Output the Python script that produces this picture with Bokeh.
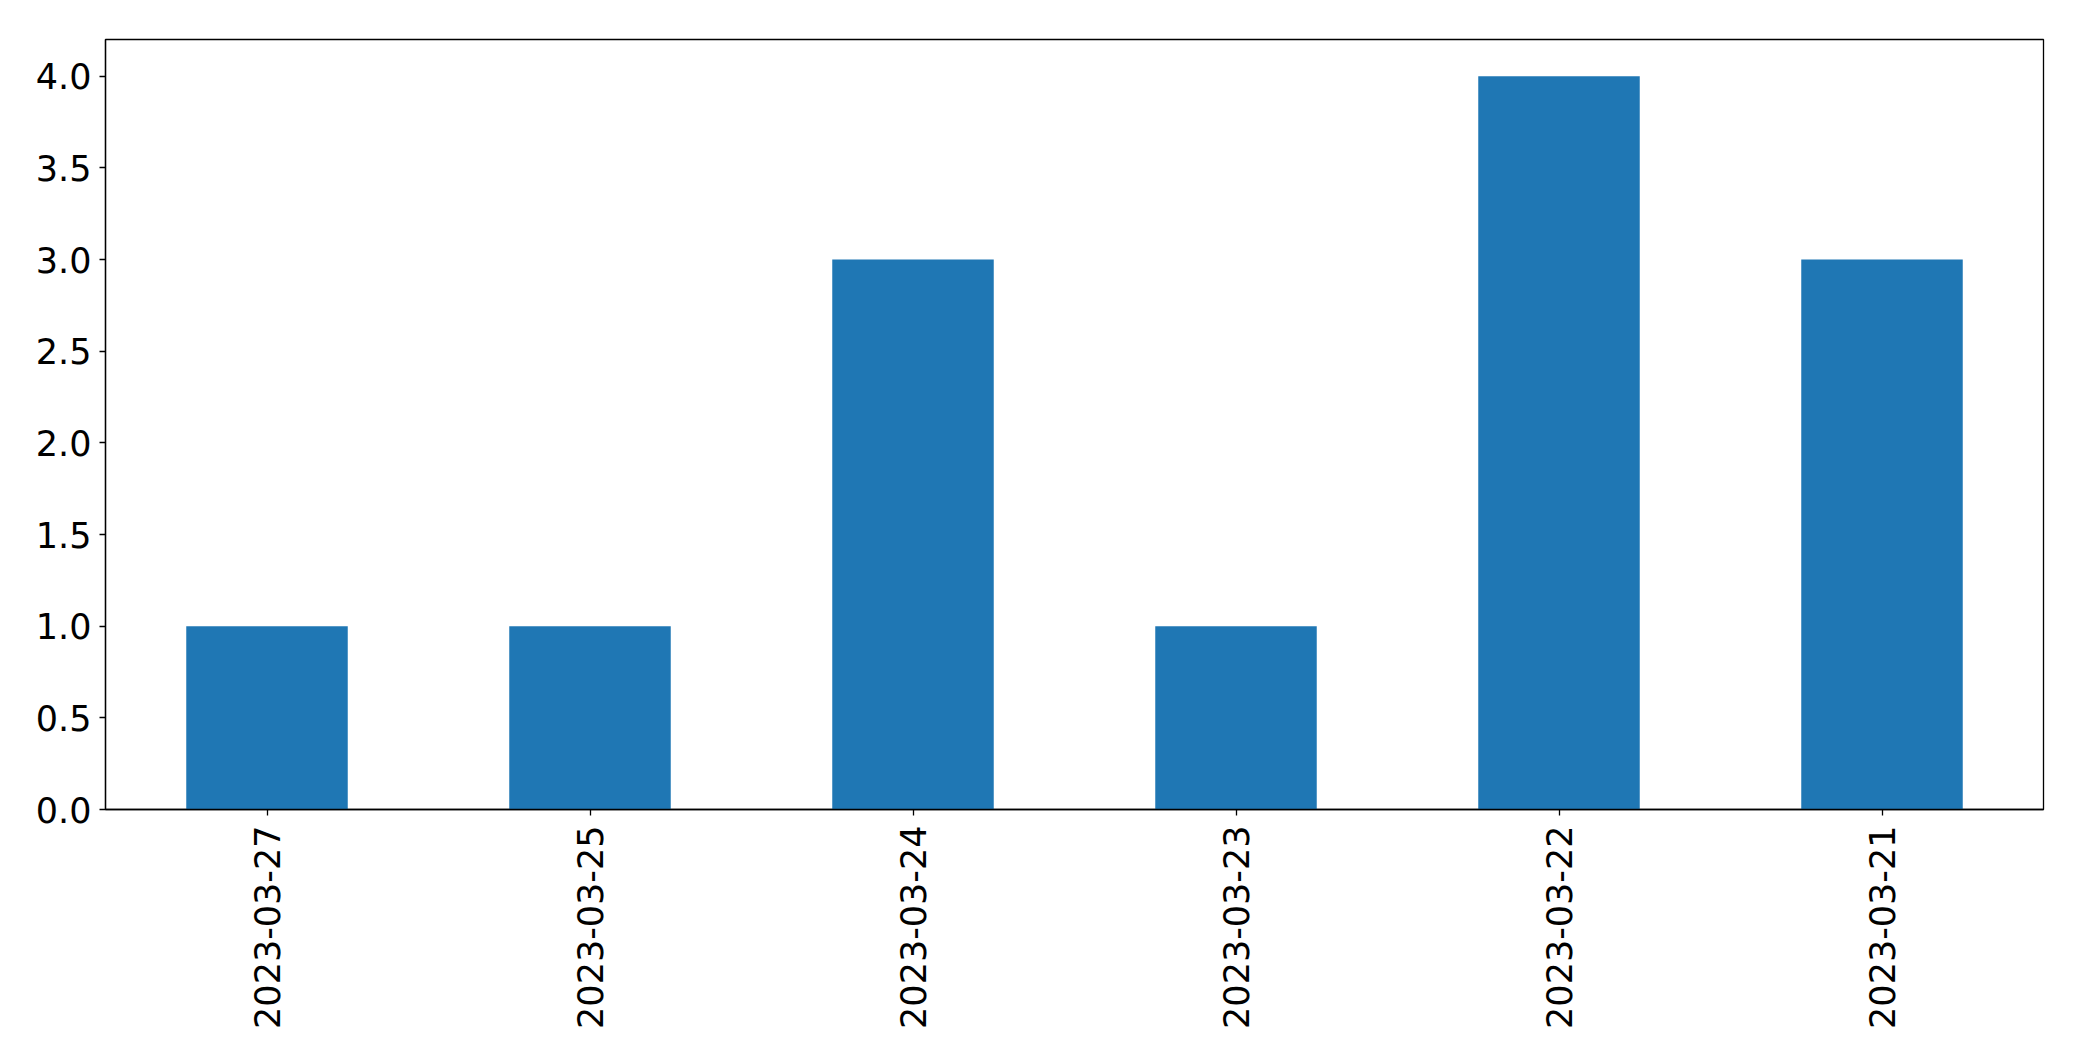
import math
from bokeh.plotting import figure
from bokeh.models import FixedTicker, NumeralTickFormatter, Range1d, FactorRange, ColumnDataSource
from bokeh.embed import file_html
from bokeh.resources import INLINE

dates = ["2023-03-27", "2023-03-25", "2023-03-24", "2023-03-23", "2023-03-22", "2023-03-21"]
counts = [1, 1, 3, 1, 4, 3]
y_ticks = [0.0, 0.5, 1.0, 1.5, 2.0, 2.5, 3.0, 3.5, 4.0]

src = ColumnDataSource(dict(x=dates, top=counts))

p = figure(width=2070, height=1053, output_backend="svg", toolbar_location=None,
           x_range=FactorRange(*dates, range_padding=0), y_range=Range1d(0, 4.2),
           min_border_left=105, min_border_top=39, min_border_right=27, min_border_bottom=244)
p.vbar(x="x", top="top", width=0.5, source=src, color="#1f77b4", line_color=None)

p.xgrid.visible = False
p.ygrid.visible = False
p.outline_line_color = "black"
p.outline_line_width = 1.3
p.background_fill_color = "white"
p.border_fill_color = "white"

for ax in (p.xaxis[0], p.yaxis[0]):
    ax.axis_line_color = "black"
    ax.axis_line_width = 1.3
    ax.major_tick_line_color = "black"
    ax.major_tick_line_width = 1.3
    ax.major_tick_out = 6
    ax.major_tick_in = 0
    ax.minor_tick_line_color = None
    ax.major_label_text_font = "DejaVu Sans"
    ax.major_label_text_font_size = "35px"
    ax.major_label_text_color = "black"

p.yaxis.ticker = FixedTicker(ticks=y_ticks)
p.yaxis.formatter = NumeralTickFormatter(format="0.0")
p.yaxis.major_label_standoff = 8
p.xaxis.major_label_orientation = math.pi / 2
p.xaxis.major_label_standoff = 10
p.xaxis.group_text_font_size = "0px"

open("out.html", "w").write(file_html(p, INLINE))
